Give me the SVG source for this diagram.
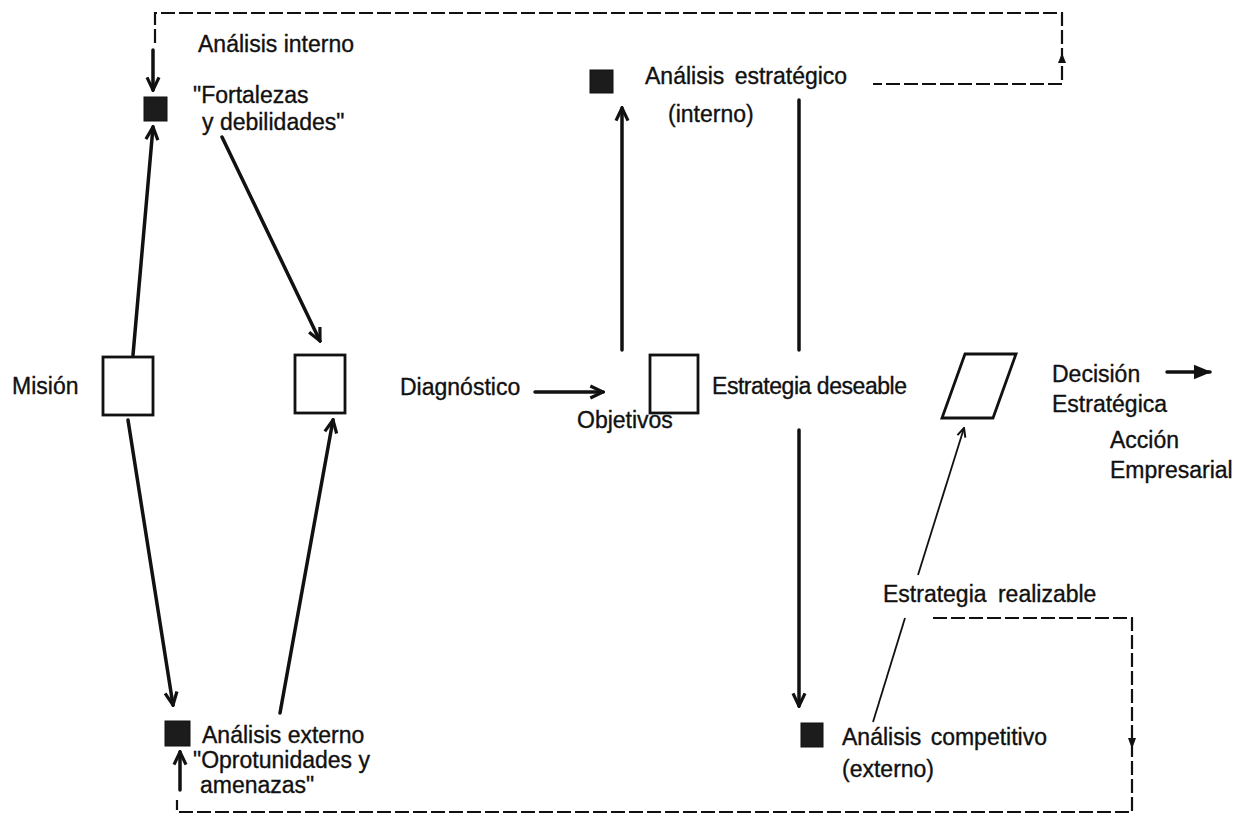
<svg xmlns="http://www.w3.org/2000/svg" width="1242" height="831" viewBox="0 0 1242 831">
<defs>
<style>
text{font-family:"Liberation Sans",Arial,sans-serif;font-size:23px;fill:#111;stroke:#111;stroke-width:0.35;}
.box{fill:#fff;stroke:#111;stroke-width:2.8;}
.sq{fill:#1c1c1c;stroke:#111;stroke-width:1;}
.thick{stroke:#111;stroke-width:3.5;fill:none;stroke-linecap:round;}
.thin{stroke:#111;stroke-width:1.8;fill:none;}
.dash{stroke:#111;stroke-width:2.2;fill:none;stroke-dasharray:14 4;}
.head{fill:#111;}
</style>
<marker id="arr" viewBox="0 0 12 12" refX="10.5" refY="6" markerWidth="16" markerHeight="16" markerUnits="userSpaceOnUse" orient="auto">
<path d="M1,1.5 L10.5,6 L1,10.5" fill="none" stroke="#111" stroke-width="2.4" stroke-linejoin="miter"/>
</marker>
<marker id="arrs" viewBox="0 0 12 12" refX="10.5" refY="6" markerWidth="11" markerHeight="11" markerUnits="userSpaceOnUse" orient="auto">
<path d="M1,1.5 L10.5,6 L1,10.5" fill="none" stroke="#111" stroke-width="2.2"/>
</marker>
<marker id="arrf" viewBox="0 0 12 12" refX="11" refY="6" markerWidth="18" markerHeight="18" markerUnits="userSpaceOnUse" orient="auto">
<path d="M0,1 L12,6 L0,11 Z" fill="#111"/>
</marker>
</defs>
<rect width="1242" height="831" fill="#fff"/>

<g id="connectors">
<path class="dash" d="M155,43 L155,13 L1062,13 L1062,84 L873,84"/>
<polygon class="head" points="1058,63 1062,53 1066,63"/>
<line class="thick" x1="153" y1="50" x2="153" y2="90" marker-end="url(#arr)"/>
<path class="dash" d="M933,618 L1132,618 L1132,812 L177,812 L177,800"/>
<polygon class="head" points="1128,738 1132,749 1136,738"/>
<line class="thick" x1="180" y1="790" x2="180" y2="752" marker-end="url(#arr)"/>
<line class="thick" x1="133" y1="355" x2="153" y2="127" marker-end="url(#arr)"/>
<line class="thick" x1="128" y1="420" x2="173" y2="705" marker-end="url(#arr)"/>
<line class="thick" x1="222" y1="137" x2="320" y2="341" marker-end="url(#arr)"/>
<line class="thick" x1="280" y1="713" x2="333" y2="420" marker-end="url(#arr)"/>
<line class="thick" x1="535" y1="392" x2="603" y2="392" marker-end="url(#arr)"/>
<line class="thick" x1="622" y1="350" x2="622" y2="108" marker-end="url(#arr)"/>
<line class="thick" x1="799" y1="100" x2="799" y2="350"/>
<line class="thick" x1="799" y1="430" x2="799" y2="706" marker-end="url(#arr)"/>
<line class="thin" x1="873" y1="722" x2="905" y2="618"/>
<line class="thin" x1="918" y1="575" x2="964" y2="428" marker-end="url(#arrs)"/>
<line class="thick" x1="1167" y1="372" x2="1210" y2="372" marker-end="url(#arrf)"/>
</g>

<g id="node-mision">
<rect class="box" x="103" y="357" width="50" height="58"/>
<text x="12" y="394">Misión</text>
</g>
<g id="node-diagnostico">
<rect class="box" x="295" y="355" width="50" height="58"/>
<text x="400" y="395">Diagnóstico</text>
</g>
<g id="node-objetivos">
<rect class="box" x="650" y="355" width="48" height="58"/>
<text x="577" y="428">Objetivos</text>
</g>
<g id="node-estrategia-deseable">
<polygon class="box" points="965,354 1016,354 993,418 942,418"/>
<text x="712" y="394" textLength="195">Estrategia deseable</text>
</g>
<g id="node-decision">
<text x="1052" y="382">Decisión</text>
<text x="1052" y="412">Estratégica</text>
<text x="1110" y="448">Acción</text>
<text x="1110" y="478">Empresarial</text>
</g>
<g id="node-analisis-interno">
<rect class="sq" x="144" y="97" width="23" height="24"/>
<text x="198" y="52">Análisis interno</text>
<text x="193" y="103">"Fortalezas</text>
<text x="202" y="130">y debilidades"</text>
</g>
<g id="node-analisis-estrategico">
<rect class="sq" x="590" y="70" width="23" height="23"/>
<text x="645" y="84" word-spacing="4">Análisis estratégico</text>
<text x="668" y="122">(interno)</text>
</g>
<g id="node-analisis-externo">
<rect class="sq" x="165" y="721" width="25" height="25"/>
<text x="202" y="743">Análisis externo</text>
<text x="193" y="768">"Oprotunidades y</text>
<text x="200" y="793">amenazas"</text>
</g>
<g id="node-analisis-competitivo">
<rect class="sq" x="801" y="723" width="22" height="24"/>
<text x="842" y="745" word-spacing="3">Análisis competitivo</text>
<text x="842" y="777">(externo)</text>
</g>
<g id="node-estrategia-realizable">
<text x="883" y="602" word-spacing="5">Estrategia realizable</text>
</g>
</svg>
